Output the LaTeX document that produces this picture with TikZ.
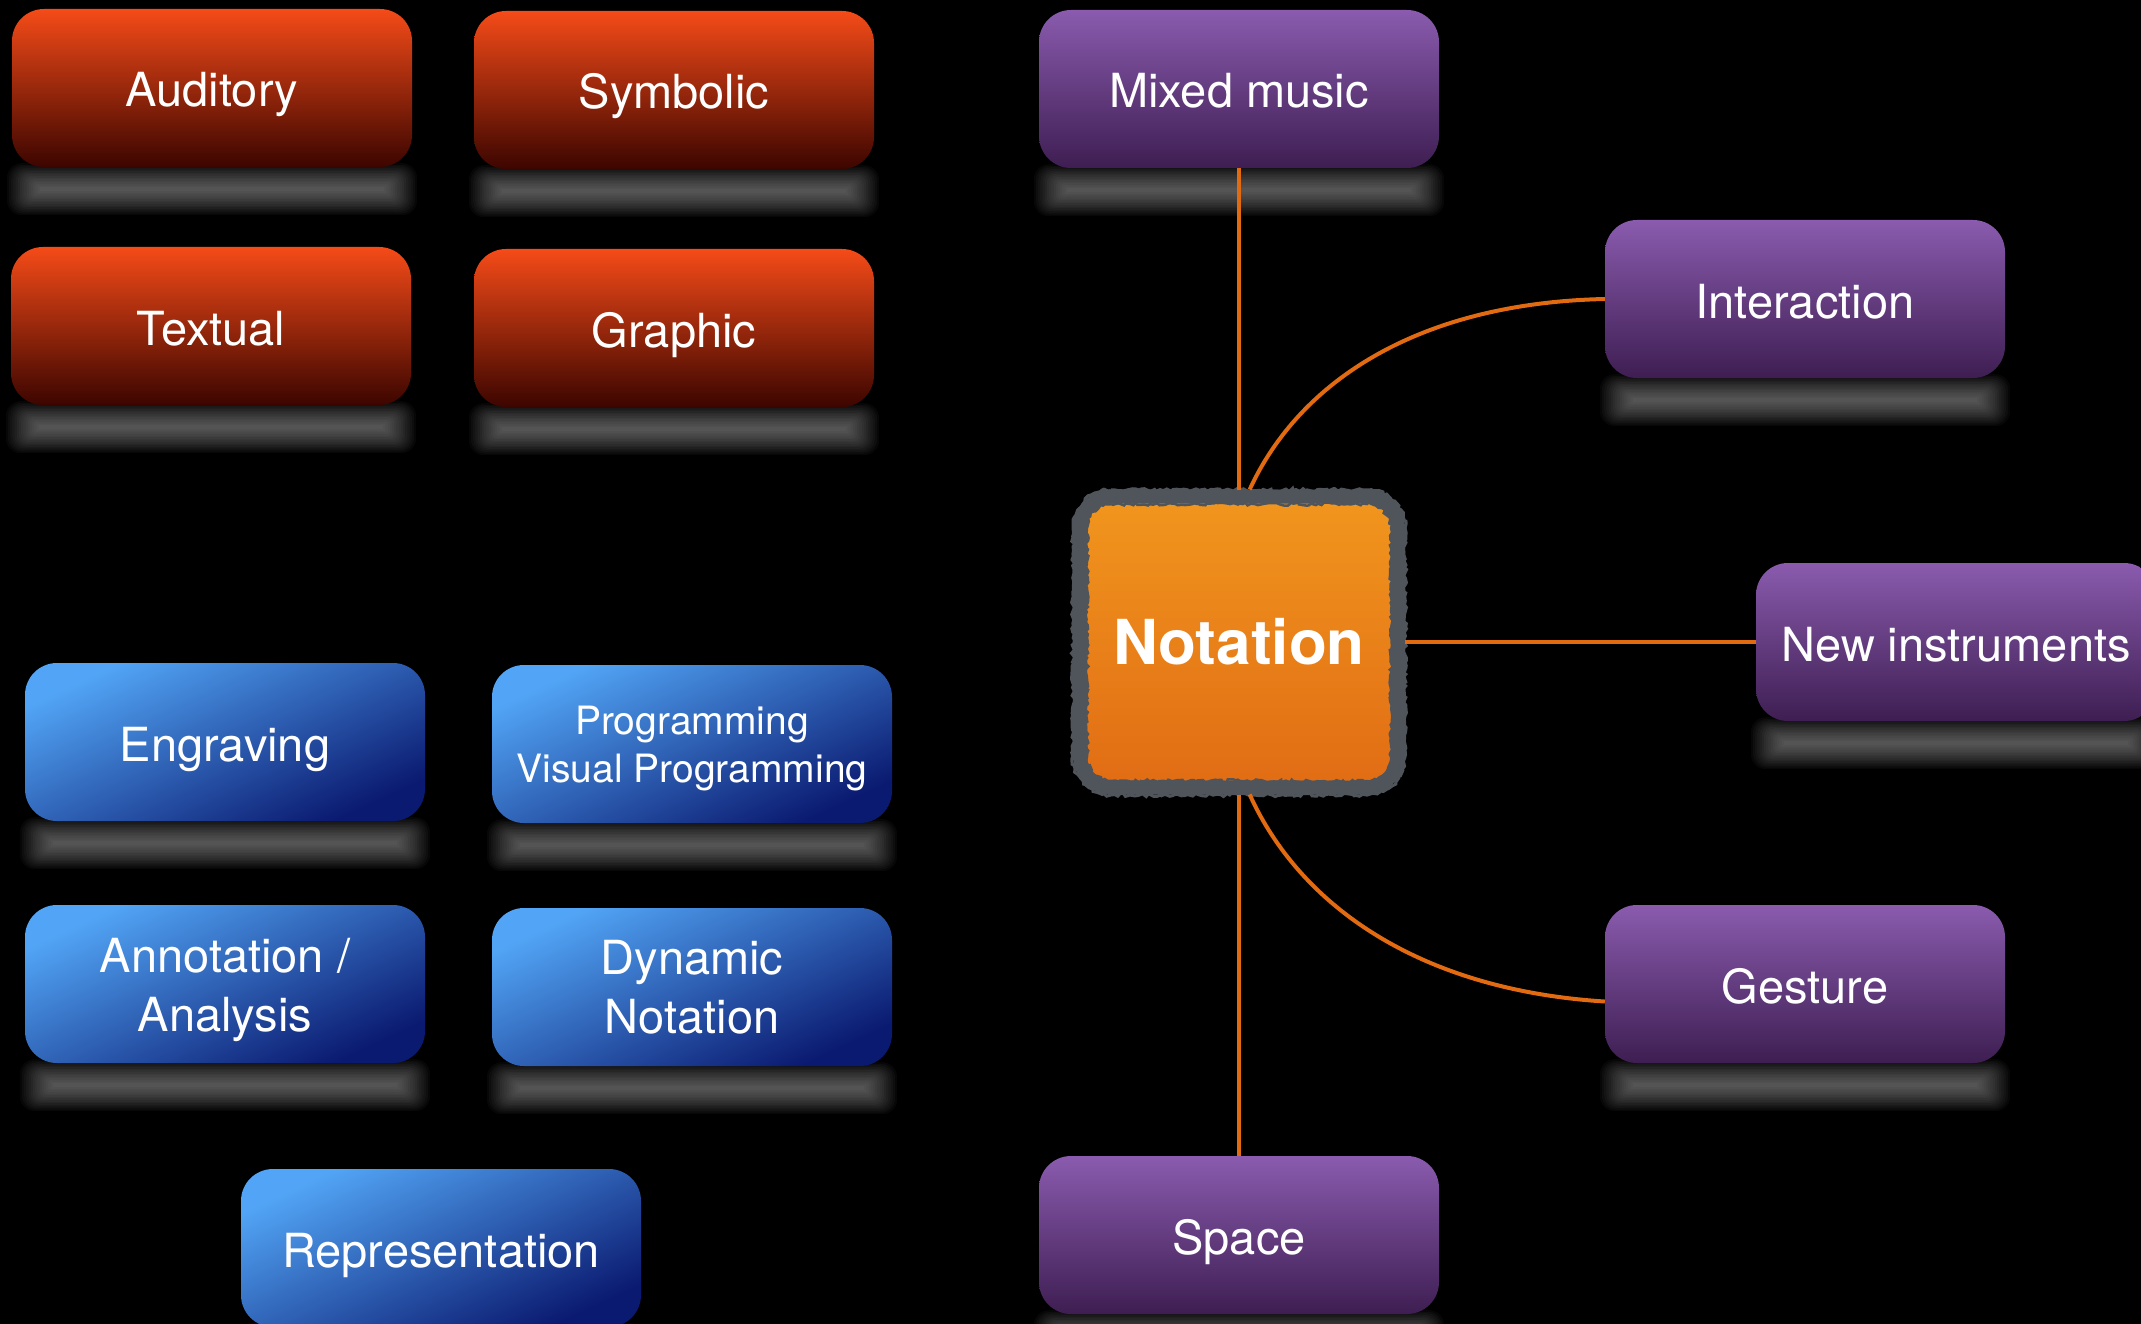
\documentclass[tikz,border=0pt]{standalone}
\usepackage{fontspec}
\setmainfont{TeX Gyre Heros}
\usetikzlibrary{decorations.pathmorphing}
\pgfdeclarelayer{back}
\pgfdeclarelayer{glow}
\pgfsetlayers{back,glow,main}
\definecolor{redtop}{RGB}{245,75,24}
\definecolor{redbot}{RGB}{60,5,0}
\definecolor{bluetop}{RGB}{82,165,246}
\definecolor{bluebot}{RGB}{10,26,112}
\definecolor{purptop}{RGB}{138,91,174}
\definecolor{purpbot}{RGB}{62,30,82}
\definecolor{notetop}{RGB}{241,150,30}
\definecolor{notebot}{RGB}{225,108,20}
\definecolor{notegray}{RGB}{80,85,92}
\definecolor{wireorange}{RGB}{226,106,16}

\begin{document}
\begin{tikzpicture}[x=1pt,y=-1pt,
 tile/.style={minimum width=400pt,minimum height=158pt,rounded corners=32pt,inner sep=0pt,
   text=white,align=center,font=\fontsize{47}{59}\selectfont},
 single/.style={text height=38pt,text depth=0pt},
 redbox/.style={tile,single,top color=redtop,bottom color=redbot},
 bluebox/.style={tile,top color=bluetop,bottom color=bluebot,shading angle=25},
 purplebox/.style={tile,single,top color=purptop,bottom color=purpbot},
 notebox/.style={minimum width=318pt,minimum height=291pt,rounded corners=32pt,inner sep=0pt,
   draw=notegray,line width=14pt,top color=notetop,bottom color=notebot,
   text=white,font=\fontsize{62}{70}\selectfont\bfseries},
 wire/.style={draw=wireorange,line width=4pt},
 rough/.style={draw=notegray,decorate,decoration={random steps,segment length=3pt,amplitude=1.6pt}}]
 \useasboundingbox (0,0) rectangle (2141,1324);
 \begin{pgfonlayer}{back}
  \fill[black] (0,0) rectangle (2141,1324);
 \end{pgfonlayer}
 \pgfmathsetseed{11}

 \node[redbox] (aud) at (212,88) {Auditory};
 \node[redbox] (sym) at (674,90) {Symbolic};
 \node[redbox] (tex) at (211,326) {Textual};
 \node[redbox] (gra) at (674,328) {Graphic};

 \node[bluebox,single] (eng) at (225,742) {Engraving};
 \node[bluebox,font=\fontsize{39}{48}\selectfont] (prog) at (692,744) {\rule{0pt}{37pt}Programming\\Visual Programming};
 \node[bluebox] (ann) at (225,984) {\rule{0pt}{46pt}Annotation /\\Analysis};
 \node[bluebox] (dyn) at (692,987) {Dynamic\\Notation};
 \node[bluebox,single] (rep) at (441,1248) {Representation};

 \node[notebox] (not) at (1239,642) {Notation};
 \draw[rough,line width=3pt] (1111,490) -- (1367,490) .. controls (1388,490) and (1405,507) .. (1405,528)
   -- (1405,757) .. controls (1405,778) and (1388,795) .. (1367,795)
   -- (1111,795) .. controls (1090,795) and (1073,778) .. (1073,757)
   -- (1073,528) .. controls (1073,507) and (1090,490) .. cycle;
 \draw[rough,line width=2.5pt] (1111,504) -- (1367,504) .. controls (1380,504) and (1391,515) .. (1391,528)
   -- (1391,757) .. controls (1391,770) and (1380,781) .. (1367,781)
   -- (1111,781) .. controls (1098,781) and (1087,770) .. (1087,757)
   -- (1087,528) .. controls (1087,515) and (1098,504) .. cycle;

 \node[purplebox] (mix) at (1239,89) {Mixed music};
 \node[purplebox] (inter) at (1805,299) {Interaction};
 \node[purplebox] (newi) at (1956,642) {New instruments};
 \node[purplebox] (ges) at (1805,984) {Gesture};
 \node[purplebox] (spa) at (1239,1235) {Space};

 \draw[wire] (mix) -- (not);
 \draw[wire] (not.86) .. controls (1300,380) and (1420,303) .. (inter.west);
 \draw[wire] (not) -- (newi);
 \draw[wire] (not.274) .. controls (1300,906) and (1420,990) .. (ges.185);
 \draw[wire] (not) -- (spa);

 \begin{pgfonlayer}{glow}
  \foreach \n in {aud,sym,tex,gra,eng,prog,ann,dyn,rep,mix,inter,newi,ges,spa}
   \foreach \k [evaluate=\k as \r using 2+1.6*\k] in {0,...,15}
    \fill[white!75!black,opacity=0.04,rounded corners=\r pt]
      ([shift={(28-2.2*\k,20-1.6*\k)}]\n.south west) rectangle ([shift={(-28+2.2*\k,24+1.6*\k)}]\n.south east);
 \end{pgfonlayer}
\end{tikzpicture}
\end{document}
